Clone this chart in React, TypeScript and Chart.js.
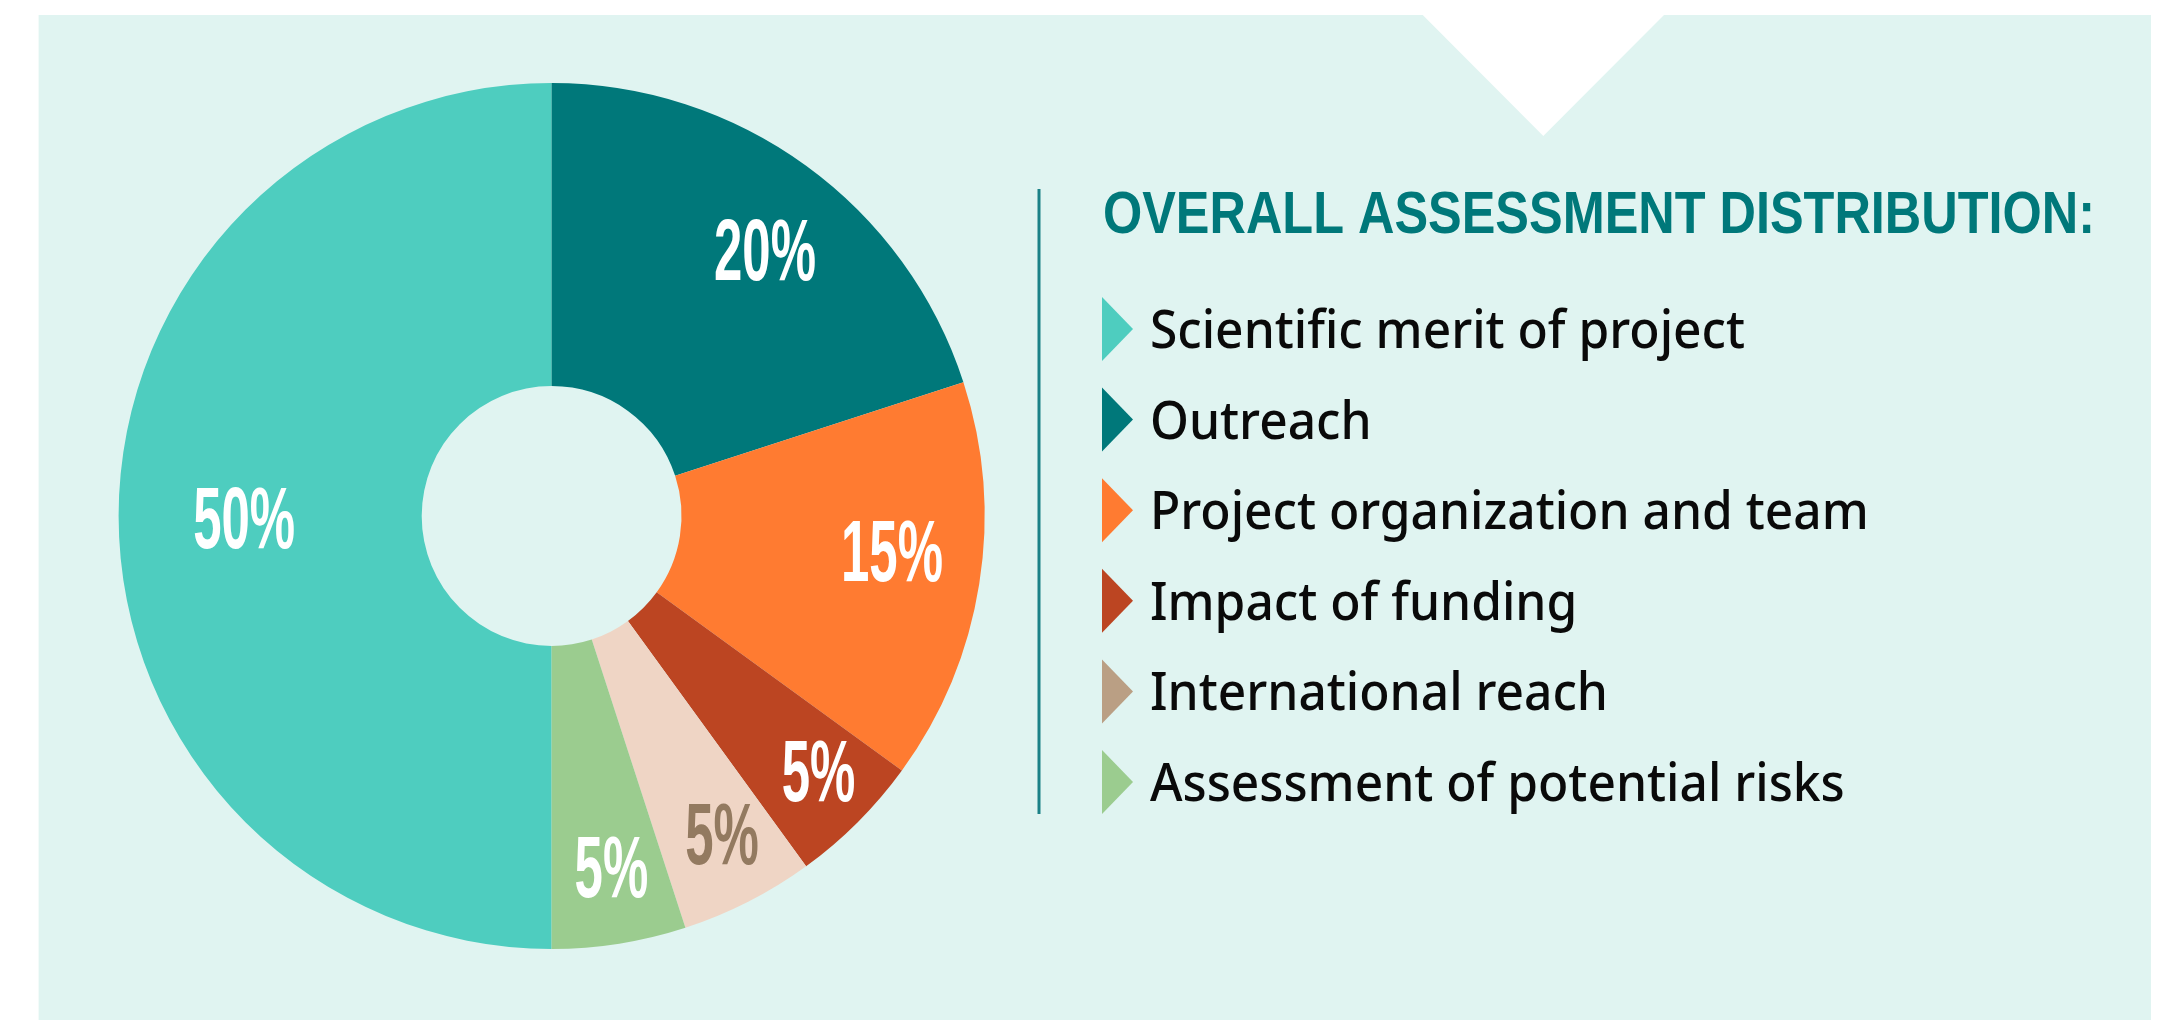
import React, { useEffect, useRef } from "react";
import { Chart, registerables } from "chart.js";

Chart.register(...registerables);

// ---------- data ----------
const categories = [
  "Scientific merit of project",
  "Outreach",
  "Project organization and team",
  "Impact of funding",
  "International reach",
  "Assessment of potential risks",
];
const shares = [50, 20, 15, 5, 5, 5];
const percentLabels = ["50%", "20%", "15%", "5%", "5%", "5%"];
const sliceColors = ["#4ECDBF", "#00787A", "#FF7B31", "#BC4522", "#EFD5C5", "#9BCC8F"];
const markerColors = ["#4ECDBF", "#00787A", "#FF7B31", "#BC4522", "#BA9F84", "#9BCC8F"];
const labelColors = ["#FFFFFF", "#FFFFFF", "#FFFFFF", "#FFFFFF", "#937A60", "#FFFFFF"];
const title = "OVERALL ASSESSMENT DISTRIBUTION:";

// ---------- style ----------
const W = 2162;
const H = 1020;
const PANEL = "#E0F4F1";
const TITLE_COLOR = "#00787A";
const labelRadius = [0.71, 0.79, 0.79, 0.85, 0.83, 0.82];
const labelAngleShift = [0, 2.6, -3.3, -1.5, -1.3, -0.7]; // degrees

const backgroundPlugin = {
  id: "panelBg",
  beforeDraw(chart: any) {
    const ctx = chart.ctx as CanvasRenderingContext2D;
    ctx.save();
    ctx.fillStyle = "#FFFFFF";
    ctx.fillRect(0, 0, W, H);
    ctx.fillStyle = PANEL;
    ctx.beginPath();
    ctx.moveTo(38.6, 15);
    ctx.lineTo(1422.7, 15);
    ctx.lineTo(1543.3, 136);
    ctx.lineTo(1664, 15);
    ctx.lineTo(2151, 15);
    ctx.lineTo(2151, H);
    ctx.lineTo(38.6, H);
    ctx.closePath();
    ctx.fill();
    ctx.restore();
  },
};

const sliceLabelPlugin = {
  id: "sliceLabels",
  afterDatasetsDraw(chart: any) {
    const ctx = chart.ctx as CanvasRenderingContext2D;
    const meta = chart.getDatasetMeta(0);
    ctx.save();
    const fs = 88;
    ctx.font = `bold ${fs}px 'Liberation Sans', Arial, sans-serif`;
    const sx = 102 / ctx.measureText("20%").width;
    meta.data.forEach((arc: any, i: number) => {
      const p = arc.getProps(["x", "y", "startAngle", "endAngle", "outerRadius"], true);
      const mid = (p.startAngle + p.endAngle) / 2 + (labelAngleShift[i] * Math.PI) / 180;
      const r = p.outerRadius * labelRadius[i];
      const px = p.x + Math.cos(mid) * r;
      const py = p.y + Math.sin(mid) * r;
      ctx.save();
      ctx.translate(px, py + fs * 0.358);
      ctx.scale(sx, 1);
      ctx.textAlign = "center";
      ctx.textBaseline = "alphabetic";
      ctx.fillStyle = labelColors[i];
      ctx.fillText(percentLabels[i], 0, 0);
      ctx.restore();
    });
    ctx.restore();
  },
};

const legendPlugin = {
  id: "sideLegend",
  afterDraw(chart: any) {
    const ctx = chart.ctx as CanvasRenderingContext2D;
    ctx.save();
    // vertical rule
    ctx.fillStyle = "#1B8187";
    ctx.fillRect(1037.5, 189, 3, 625);

    // title
    ctx.font = "bold 60px 'Liberation Sans', Arial, sans-serif";
    const tw = ctx.measureText(title).width;
    ctx.save();
    ctx.translate(1103, 233);
    ctx.scale(992 / tw, 1);
    ctx.fillStyle = TITLE_COLOR;
    ctx.textBaseline = "alphabetic";
    ctx.textAlign = "left";
    ctx.fillText(title, 0, 0);
    ctx.restore();

    // items
    ctx.font = "500 53px 'Noto Sans', 'Open Sans', sans-serif";
    const sx = 595 / ctx.measureText(categories[0]).width;
    categories.forEach((name, i) => {
      const cy = 329 + 90.6 * i;
      ctx.fillStyle = markerColors[i];
      ctx.beginPath();
      ctx.moveTo(1102, cy - 32);
      ctx.lineTo(1133, cy);
      ctx.lineTo(1102, cy + 32);
      ctx.closePath();
      ctx.fill();

      ctx.save();
      ctx.translate(1150, cy + 19);
      ctx.scale(sx, 1);
      ctx.fillStyle = "#0A0A0A";
      ctx.textBaseline = "alphabetic";
      ctx.textAlign = "left";
      ctx.fillText(name, 0, 0);
      ctx.restore();
    });
    ctx.restore();
  },
};

export default function App() {
  const ref = useRef<HTMLCanvasElement>(null);

  useEffect(() => {
    const chart = new Chart(ref.current as HTMLCanvasElement, {
      type: "doughnut",
      data: {
        labels: categories,
        datasets: [
          {
            data: shares,
            backgroundColor: sliceColors,
            borderWidth: 0,
          },
        ],
      },
      options: {
        responsive: false,
        animation: false,
        devicePixelRatio: 1,
        rotation: 180,
        cutout: "30%",
        layout: {
          padding: { left: 118.6, right: 1177.4, top: 83, bottom: 71 },
        },
        plugins: {
          legend: { display: false },
          tooltip: { enabled: false },
        },
      } as any,
      plugins: [backgroundPlugin, sliceLabelPlugin, legendPlugin],
    });
    return () => chart.destroy();
  }, []);

  return (
    <div style={{ position: "fixed", left: 0, top: 0, width: W, height: H }}>
      <canvas ref={ref} width={W} height={H} style={{ display: "block", width: W, height: H }} />
    </div>
  );
}
